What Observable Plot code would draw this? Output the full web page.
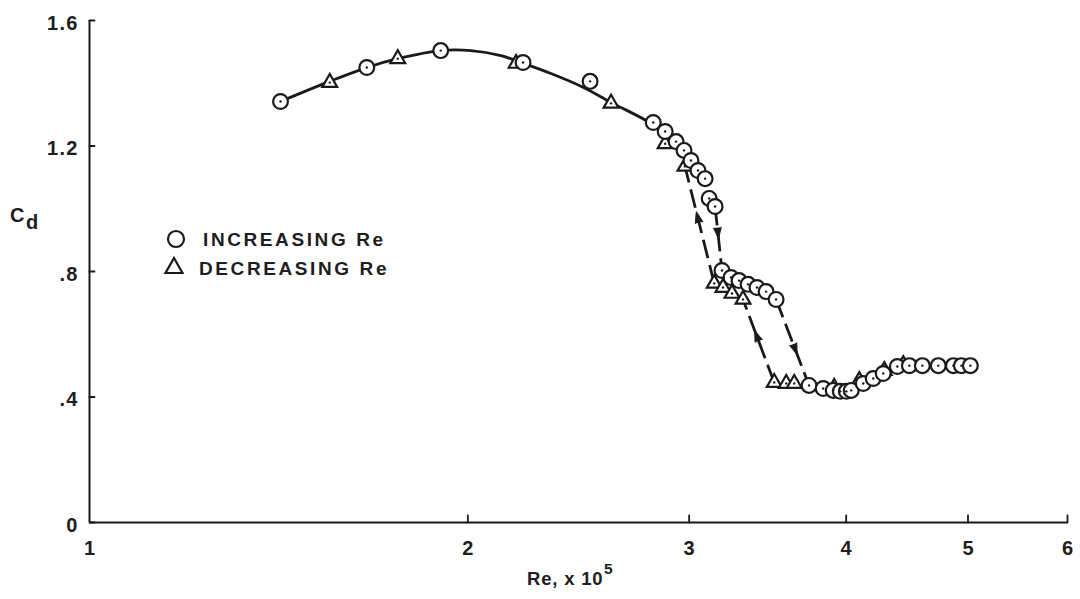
<!DOCTYPE html>
<html><head><meta charset="utf-8">
<script src="https://cdn.jsdelivr.net/npm/d3@7"></script>
<script src="https://cdn.jsdelivr.net/npm/@observablehq/plot@0.6"></script>
<style>
html,body{margin:0;padding:0;background:#fff;}
#wrap{position:relative;width:1080px;height:599px;font-family:"Liberation Sans",Arial,sans-serif;color:#1e1e1e;}
.lbl{position:absolute;font-weight:bold;white-space:nowrap;line-height:1;}
#wrap svg{display:block;}
g[aria-label="y-axis tick label"] text{letter-spacing:1.2px;}
</style></head><body><div id="wrap"></div>
<script>
// Increasing Re (circles)
const incRe = [1.419,1.662,1.903,2.213,2.502,2.809,2.871,2.929,2.972,3.010,3.049,3.089,3.112,3.146,
  3.186,3.239,3.287,3.342,3.397,3.454,3.518,
  3.737,3.835,3.906,3.957,4.001,4.037,4.127,4.203,4.281,4.393,4.491,4.599,4.735,4.868,4.940,5.022];
const incCd = [1.342,1.450,1.504,1.466,1.406,1.275,1.246,1.214,1.186,1.154,1.122,1.096,1.033,1.007,
  0.803,0.781,0.771,0.759,0.749,0.736,0.711,
  0.437,0.427,0.421,0.418,0.418,0.421,0.443,0.459,0.475,0.497,0.500,0.500,0.500,0.500,0.500,0.500];
// Decreasing Re (triangles)
const decRe = [1.553,1.759,2.185,2.600,2.871,2.977,3.141,3.192,3.245,3.311,3.506,3.584,3.637,3.913,4.097,4.289,4.441];
const decCd = [1.402,1.478,1.463,1.336,1.207,1.135,0.762,0.749,0.730,0.711,0.446,0.443,0.443,0.430,0.452,0.484,0.503];
// Faired solid curve
const fairRe = [1.419,1.553,1.662,1.762,1.903,2.011,2.125,2.216,2.329,2.474,2.600,2.798,2.902,3.000];
const fairCd = [1.342,1.406,1.450,1.479,1.504,1.504,1.488,1.463,1.431,1.386,1.339,1.272,1.224,1.154];
// Dashed jump paths, in the direction of travel
const jumpRe1 = [3.141,3.146,3.506,3.518];
const jumpCd1 = [0.762,1.007,0.446,0.711];
const jumpRe2 = [2.977,3.186,3.311,3.737];
const jumpCd2 = [1.135,0.803,0.711,0.437];
const arrowAt = [0.52,0.33,0.50,0.52];
// Axis ticks
const xTicks = [1,2,3,4,5,6];
const xTickLabels = ["1","2","3","4","5","6"];
const yTicks = [0,0.4,0.8,1.2,1.6];
const yTickLabels = ["0",".4",".8","1.2","1.6"];

const ink = "#1a1a1a";
const W = 1080, H = 599, mL = 89, mR = 13, mT = 20, mB = 77;
const inc = incRe.map((r,i)=>({re:r, cd:incCd[i]}));
const dec = decRe.map((r,i)=>({re:r, cd:decCd[i]}));
const fair = fairRe.map((r,i)=>({re:r, cd:fairCd[i]}));
const jumps = jumpRe1.map((r,i)=>({x1:r, y1:jumpCd1[i], x2:jumpRe2[i], y2:jumpCd2[i], t:arrowAt[i]}));

const sx = Plot.scale({x:{type:"log", domain:[1,6], range:[mL, W-mR]}});
const sy = Plot.scale({y:{type:"linear", domain:[0,1.6], range:[H-mB, mT]}});
const lerpLog = (a,b,t)=>Math.pow(10, Math.log10(a)+(Math.log10(b)-Math.log10(a))*t);
const lerp = (a,b,t)=>a+(b-a)*t;
const heads = jumps.map(j=>{
  const dx = sx.apply(j.x2)-sx.apply(j.x1), dy = sy.apply(j.y2)-sy.apply(j.y1);
  return {x: lerpLog(j.x1,j.x2,j.t), y: lerp(j.y1,j.y2,j.t), a: Math.atan2(dx,-dy)*180/Math.PI};
});
const tickShape = {draw(ctx, l){ ctx.moveTo(0,0); ctx.lineTo(0,-l); }};

const chart = Plot.plot({
  width:W, height:H,
  marginLeft:mL, marginRight:mR, marginTop:mT, marginBottom:mB,
  x:{type:"log", domain:[1,6]},
  y:{domain:[0,1.6]},
  style:{fontFamily:"'Liberation Sans', Arial, sans-serif", fontWeight:"bold", color:"#1e1e1e", background:"white"},
  marks:[
    Plot.ruleX([1], {stroke:ink, strokeWidth:2}),
    Plot.ruleY([0], {stroke:ink, strokeWidth:2.2}),
    Plot.vector(xTicks.slice(1), {x:d=>d, y:0, length:7, rotate:0, anchor:"start", shape:tickShape, stroke:ink, strokeWidth:1.8}),
    Plot.vector(yTicks, {x:1, y:d=>d, length:5, rotate:90, anchor:"start", shape:tickShape, stroke:ink, strokeWidth:1.8}),
    Plot.axisX(xTicks, {tickSize:0, tickPadding:18, tickFormat:d=>xTickLabels[xTicks.indexOf(d)],
      fontSize:20, fontFamily:"'Liberation Sans Narrow', 'Liberation Sans', sans-serif", label:null}),
    Plot.axisY(yTicks, {tickSize:0, tickPadding:11, tickFormat:d=>yTickLabels[yTicks.indexOf(d)],
      fontSize:20, dy:3, label:null}),
    Plot.line(fair, {x:"re", y:"cd", curve:"catmull-rom", stroke:ink, strokeWidth:2.8}),
    Plot.link(jumps, {x1:"x1", y1:"y1", x2:"x2", y2:"y2", stroke:ink, strokeWidth:2.8, strokeDasharray:"19,7"}),
    Plot.vector(heads, {x:"x", y:"y", rotate:"a", length:11, r:3.8, anchor:"start", shape:"spike", fill:ink, stroke:ink, strokeWidth:1}),
    Plot.dot(dec, {x:"re", y:"cd", symbol:"triangle", r:5.5, fill:"white", stroke:ink, strokeWidth:2.2}),
    Plot.dot(dec, {x:"re", y:"cd", r:1.2, fill:ink}),
    Plot.dot(inc, {x:"re", y:"cd", symbol:"circle", r:7.4, fill:"white", stroke:ink, strokeWidth:2.2}),
    Plot.dot(inc, {x:"re", y:"cd", r:1.2, fill:ink})
  ]
});
const wrap = document.getElementById("wrap");
wrap.appendChild(chart);

function addLabel(html, left, top, size, extra){
  const d = document.createElement("div");
  d.className = "lbl";
  d.style.left = left+"px"; d.style.top = top+"px"; d.style.fontSize = size+"px";
  if (extra) Object.assign(d.style, extra);
  d.innerHTML = html;
  wrap.appendChild(d);
  return d;
}
// y label C_d
addLabel("C", 10, 205, 20);
addLabel("d", 26, 212, 20);
// x label
addLabel("Re, x 10", 527, 570, 18.5, {letterSpacing:"0.8px"});
addLabel("5", 604, 561, 15.5);
// legend
const legCirc = `<svg width="22" height="22" style="position:absolute;left:-38px;top:-2px"><circle cx="11" cy="11" r="8" fill="white" stroke="${ink}" stroke-width="2.2"/></svg>`;
const legTri = `<svg width="24" height="22" style="position:absolute;left:-37px;top:-4px"><path d="M12,3 L20.5,18 L3.5,18 Z" fill="white" stroke="${ink}" stroke-width="2.2" stroke-linejoin="miter"/></svg>`;
addLabel(legCirc + "INCREASING Re", 203, 230, 19, {letterSpacing:"2.6px"});
addLabel(legTri + "DECREASING Re", 199, 259, 19, {letterSpacing:"2.6px"});
</script>
</body></html>
